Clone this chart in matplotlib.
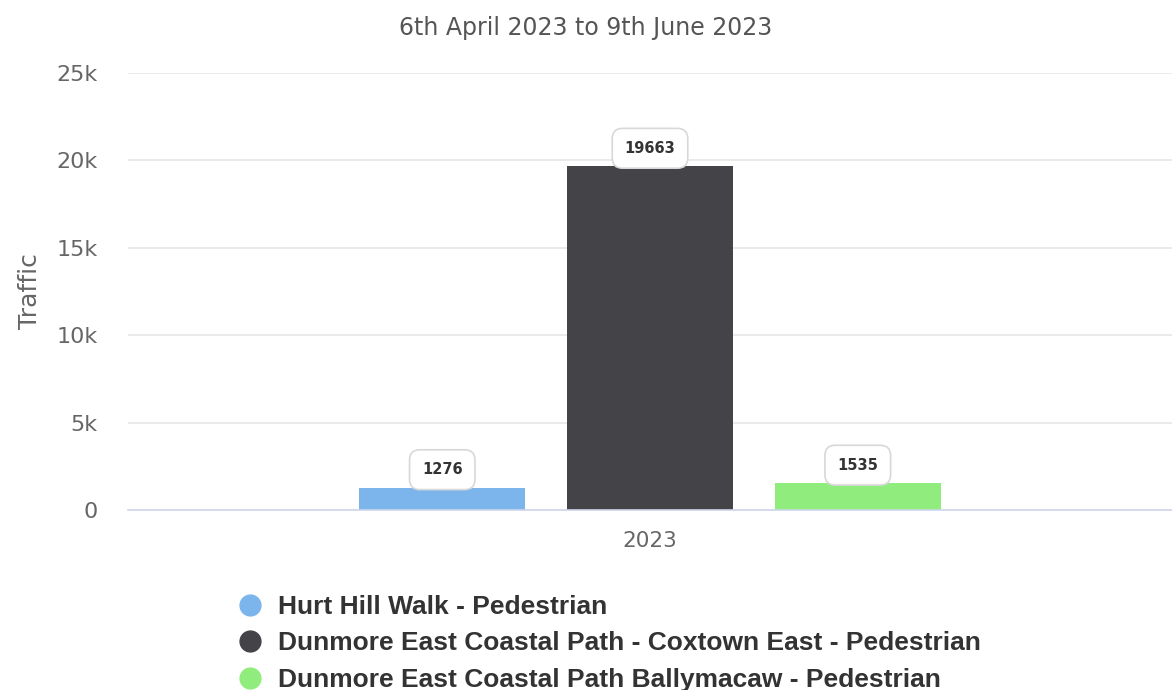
import matplotlib.pyplot as plt
from matplotlib.lines import Line2D
import numpy as np

# Datos del gráfico
categoria = "2023"
series = ["Hurt Hill Walk - Pedestrian",
          "Dunmore East Coastal Path - Coxtown East - Pedestrian",
          "Dunmore East Coastal Path Ballymacaw - Pedestrian"]
valores = [1276, 19663, 1535]
colores = ["#7cb5ec", "#434348", "#90ed7d"]
yticks = [0, 5000, 10000, 15000, 20000, 25000]
ytick_labels = ["0", "5k", "10k", "15k", "20k", "25k"]

fig = plt.figure(figsize=(11.72, 6.9), dpi=100)
ax = fig.add_axes([128/1172, 1 - 510/690, 1 - 128/1172, (510 - 73)/690])

# Barras agrupadas en una sola categoría
paso = 0.199
ancho = 0.159
posiciones = (np.arange(len(valores)) - 1) * paso
for x, v, c in zip(posiciones, valores, colores):
    ax.bar(x, v, width=ancho, color=c, zorder=2)
    ax.annotate(str(v), (x, v), xytext=(0, 18), textcoords="offset pixels",
                ha="center", va="center", fontsize=10.5, fontweight="bold", color="#333333",
                bbox=dict(boxstyle="round,pad=0.85,rounding_size=0.7", fc="white", ec="#d8d8d8", lw=1.2),
                zorder=3)

ax.set_xlim(-0.5, 0.5)
ax.set_ylim(0, 25000)
ax.set_yticks(yticks)
ax.set_yticklabels(ytick_labels, fontsize=16, color="#666666")
ax.set_xticks([0])
ax.set_xticklabels([categoria], fontsize=15.5, color="#666666")
ax.tick_params(axis="both", length=0)
ax.tick_params(axis="y", pad=22)
ax.tick_params(axis="x", pad=15)
ax.grid(axis="y", color="#e6e6e6", linewidth=1.2, zorder=0)
for s in ["top", "right", "left"]:
    ax.spines[s].set_visible(False)
ax.spines["bottom"].set_color("#ccd6eb")
ax.spines["bottom"].set_linewidth(1.2)

ax.set_ylabel("Traffic", fontsize=18, color="#666666", labelpad=10)
fig.text(0.5, 1 - 28/690, "6th April 2023 to 9th June 2023", ha="center", va="center",
         fontsize=17, color="#555555")

# Leyenda
handles = [Line2D([], [], marker="o", linestyle="", markersize=15, color=c) for c in colores]
leg = fig.legend(handles, series, loc="upper left", bbox_to_anchor=(237/1172, 1 - 595/690),
                 frameon=False, prop=dict(family="Liberation Sans", weight="bold", size=19),
                 labelcolor="#333333", handlelength=1.0, handletextpad=0.57,
                 labelspacing=0.47, borderpad=0, borderaxespad=0)

fig.savefig("out.png", dpi=100)
